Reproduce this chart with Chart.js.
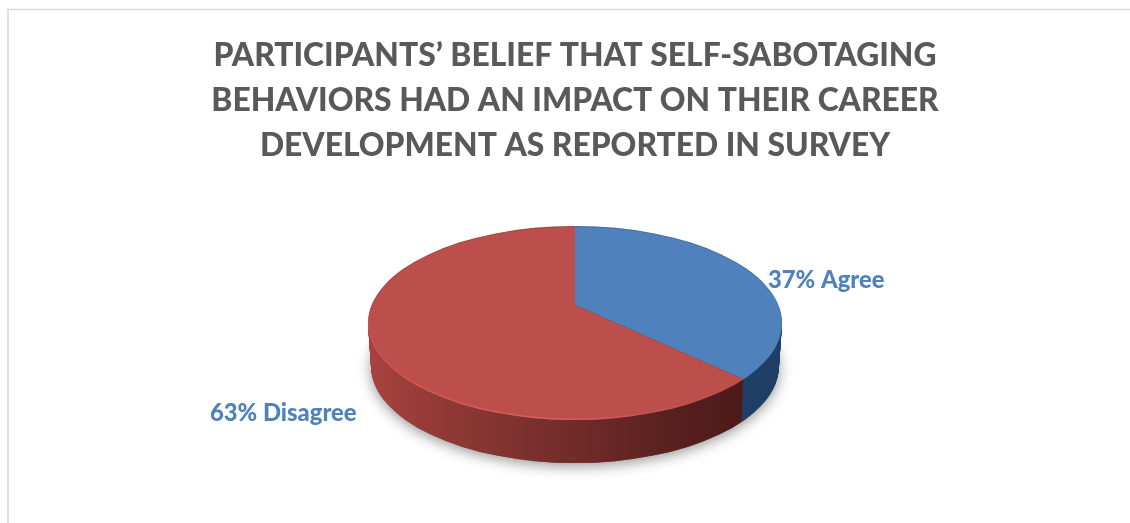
<!DOCTYPE html>
<html>
<head>
<meta charset="utf-8">
<style>
  html, body { margin:0; padding:0; background:#fff; }
  #wrap { position:relative; width:1130px; height:523px; }
</style>
<script src="https://cdn.jsdelivr.net/npm/chart.js@4"></script>
</head>
<body>
<div id="wrap"><canvas id="pieChart" width="1130" height="523"></canvas></div>
<script>
const categories = ['Agree', 'Disagree'];
const percents = [37, 63];
const titleLines = [
  'PARTICIPANTS’ BELIEF THAT SELF-SABOTAGING',
  'BEHAVIORS HAD AN IMPACT ON THEIR CAREER',
  'DEVELOPMENT AS REPORTED IN SURVEY'
];

const FONT = "Lato, 'Open Sans', sans-serif";
const LABEL_BLUE = '#4f81bd';

// the disc: rim ellipse, wedge apex sits above its centre for the perspective look
const disc = { cx:575, cy:323, rx:207, ry:97, apexY:305, depth:43 };
const labelPos = [ { x:768, y:288 }, { x:210, y:421 } ];

function rimEllipse(ctx, d){
  const rx = disc.rx - 3 * d / disc.depth;
  ctx.beginPath();
  ctx.ellipse(disc.cx, disc.cy + d, rx, disc.ry, 0, 0, Math.PI * 2);
}

function sideGradients(ctx){
  const left = disc.cx - disc.rx, right = disc.cx + disc.rx;
  const red = ctx.createLinearGradient(left, 0, right, 0);
  red.addColorStop(0, '#a8423f');
  red.addColorStop(0.2, '#8f3835');
  red.addColorStop(0.5, '#702c29');
  red.addColorStop(0.8, '#531d1b');
  red.addColorStop(1, '#4a1816');
  const blue = ctx.createLinearGradient(left, 0, right, 0);
  blue.addColorStop(0, '#1d3a5d');
  blue.addColorStop(1, '#1f3f66');
  return [blue, red];
}

// squash the round arcs onto the disc plane
function toDiscPlane(ctx, arc, d){
  ctx.translate(disc.cx, disc.apexY + d);
  ctx.scale(1, disc.ry / disc.rx);
  ctx.translate(-arc.x, -arc.y);
}

const disc3d = {
  id:'disc3d',
  beforeDatasetDraw(chart){
    const ctx = chart.ctx;
    const arcs = chart.getDatasetMeta(0).data;
    const side = sideGradients(ctx);

    // soft ground shadow
    ctx.save();
    ctx.shadowColor = 'rgba(0,0,0,0.42)';
    ctx.shadowBlur = 14;
    ctx.shadowOffsetY = 3;
    ctx.fillStyle = '#666';
    rimEllipse(ctx, disc.depth);
    ctx.fill();
    ctx.restore();

    // wall of the disc, stacked from the bottom up
    for(let d = disc.depth; d > 0; d--){
      ctx.save();
      rimEllipse(ctx, d);
      ctx.clip();
      toDiscPlane(ctx, arcs[0], d);
      arcs.forEach((arc, i) => {
        const opts = Object.assign({}, arc.options, { backgroundColor: side[i], borderColor: side[i] });
        Object.create(arc, { options:{ value: opts } }).draw(ctx);
      });
      ctx.restore();
    }

    // top face: the dataset itself, drawn by the library
    ctx.save();
    rimEllipse(ctx, 0);
    ctx.clip();
    toDiscPlane(ctx, arcs[0], 0);
  },
  afterDatasetDraw(chart){
    const ctx = chart.ctx;
    ctx.restore();

    // bevel along the rim
    ctx.save();
    rimEllipse(ctx, 0);
    ctx.clip();
    const dark = ctx.createLinearGradient(0, disc.cy - disc.ry, 0, disc.cy + 20);
    dark.addColorStop(0, 'rgba(40,30,30,0.22)');
    dark.addColorStop(1, 'rgba(40,30,30,0)');
    ctx.strokeStyle = dark;
    ctx.lineWidth = 2;
    rimEllipse(ctx, 0);
    ctx.stroke();
    const light = ctx.createLinearGradient(disc.cx - disc.rx, 0, disc.cx + 160, 0);
    light.addColorStop(0, 'rgba(225,105,100,0.3)');
    light.addColorStop(0.45, 'rgba(235,105,100,0.6)');
    light.addColorStop(1, 'rgba(235,105,100,0)');
    ctx.strokeStyle = light;
    ctx.lineWidth = 3;
    ctx.filter = 'blur(0.7px)';
    ctx.beginPath();
    ctx.ellipse(disc.cx, disc.cy, disc.rx, disc.ry, 0, Math.PI * 0.32, Math.PI * 1.02);
    ctx.stroke();
    ctx.restore();
  },
  afterDraw(chart){
    const ctx = chart.ctx;
    ctx.save();

    // frame, only top and left show
    ctx.strokeStyle = '#d9d9d9';
    ctx.lineWidth = 1.5;
    ctx.beginPath();
    ctx.moveTo(8, 523);
    ctx.lineTo(8, 9.5);
    ctx.lineTo(1130, 9.5);
    ctx.stroke();

    ctx.fillStyle = LABEL_BLUE;
    ctx.font = "900 23.8px " + FONT;
    ctx.textBaseline = 'alphabetic';
    categories.forEach((name, i) => {
      ctx.fillText(percents[i] + '% ' + name, labelPos[i].x, labelPos[i].y);
    });
    ctx.restore();
  }
};

new Chart(document.getElementById('pieChart').getContext('2d'), {
  type:'pie',
  data:{
    labels: categories,
    datasets:[{
      data: percents,
      backgroundColor:['#4f81bd', '#bc4f4c'],
      borderWidth:0,
      clip:false
    }]
  },
  options:{
    responsive:false,
    animation:false,
    radius:260,
    layout:{ padding:{ left:20 } },
    plugins:{
      legend:{ display:false },
      tooltip:{ enabled:false },
      title:{
        display:true,
        text: titleLines,
        color:'#595959',
        font:{ family:FONT, size:31.8, weight:900, lineHeight:'45px' },
        padding:{ top:33, bottom:10 }
      }
    }
  },
  plugins:[disc3d]
});
</script>
</body>
</html>
